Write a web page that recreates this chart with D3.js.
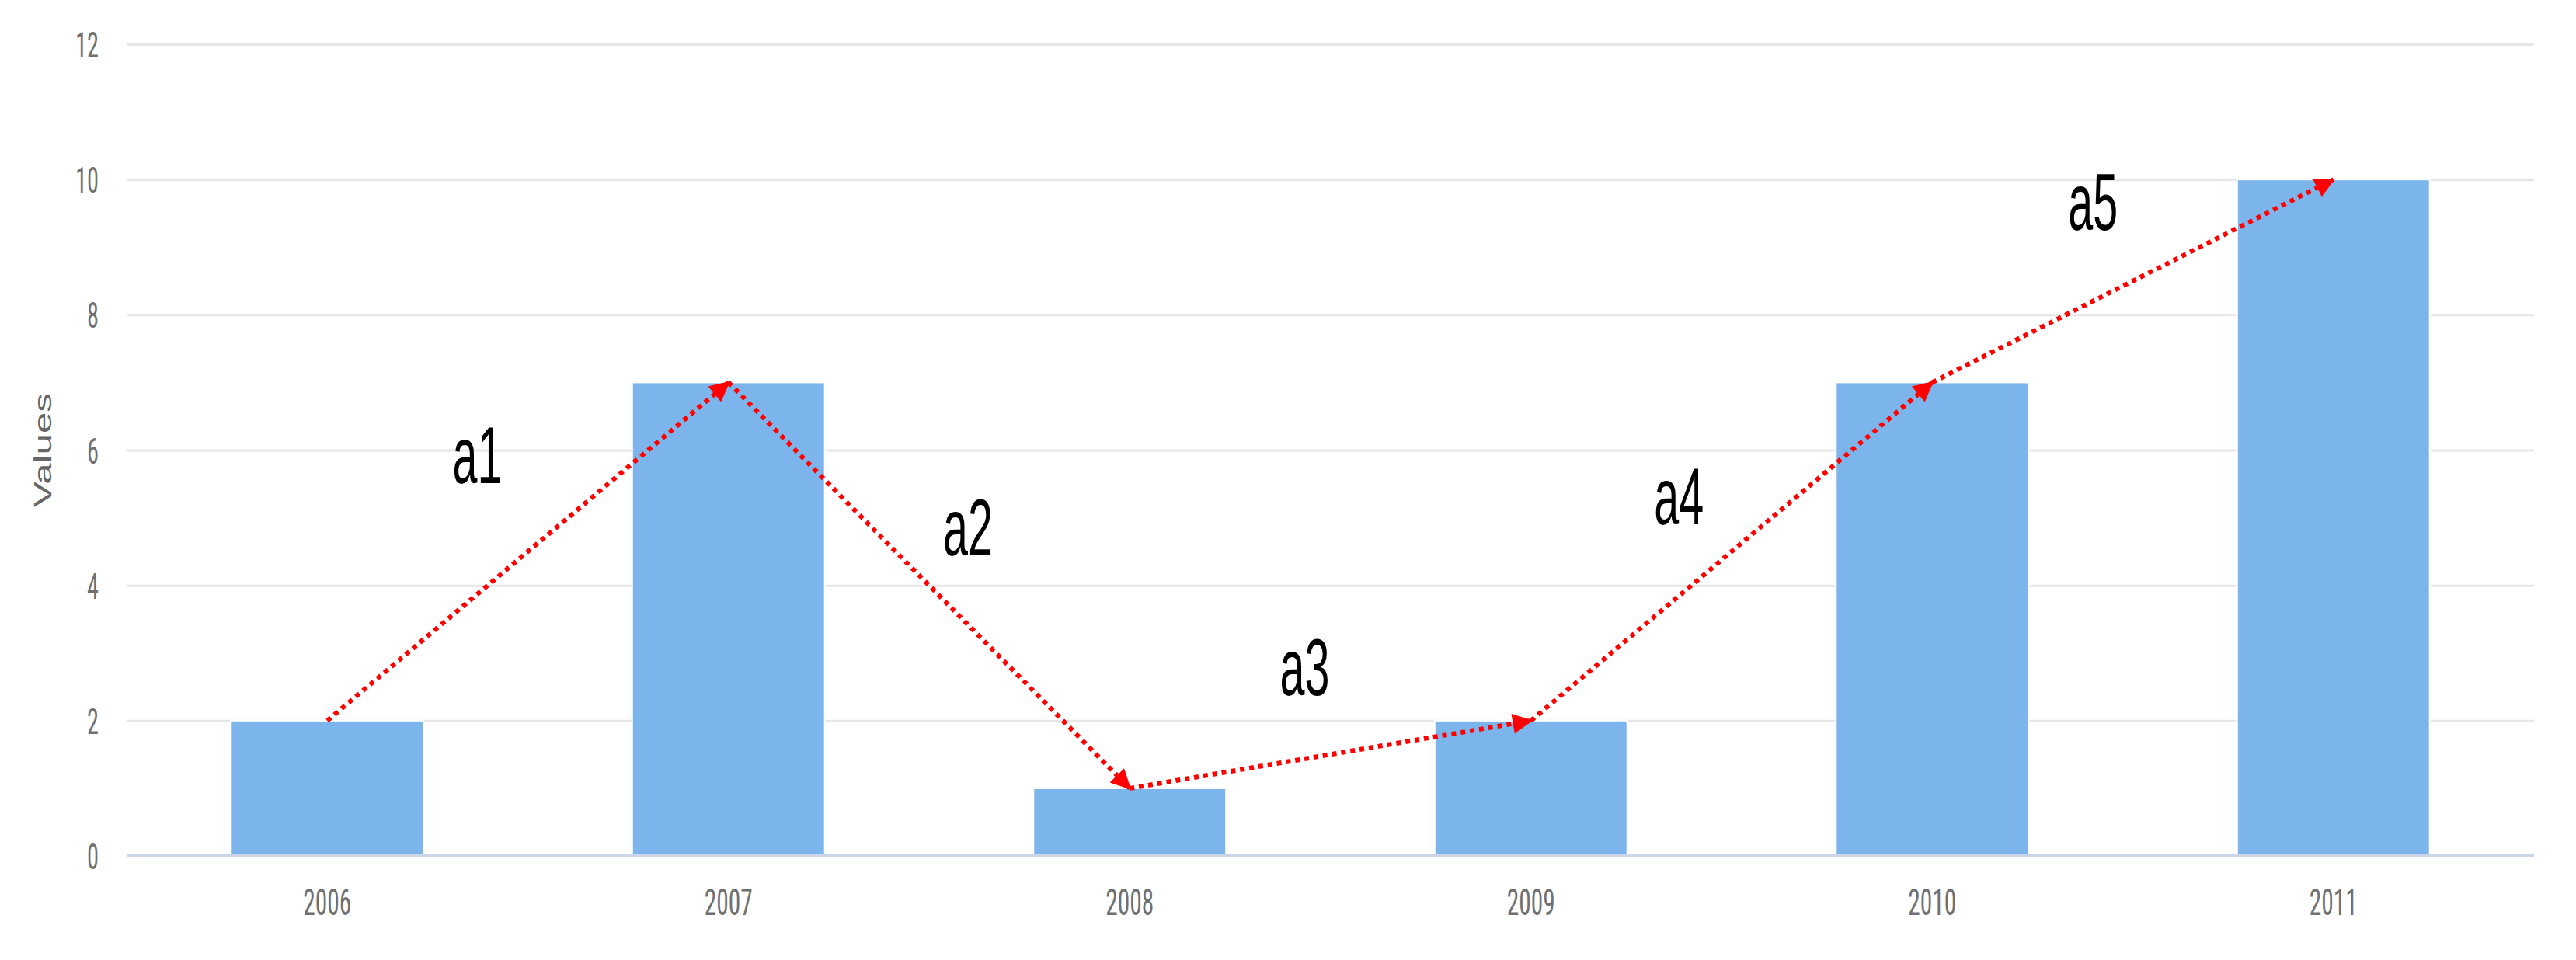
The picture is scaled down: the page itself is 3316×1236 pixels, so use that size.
<!DOCTYPE html>
<html>
<head>
<meta charset="utf-8">
<script src="https://cdn.jsdelivr.net/npm/d3@7"></script>
<style>
  html, body { margin: 0; padding: 0; background: #ffffff; }
  svg { display: block; }
</style>
</head>
<body>
<svg id="chart" width="3316" height="1236"></svg>
<script>
// ---- data ----
const categories = ["2006", "2007", "2008", "2009", "2010", "2011"];
const values = [2, 7, 1, 2, 7, 10];
const yTicks = [0, 2, 4, 6, 8, 10, 12];
const yTitle = "Values";
const arrowLabels = ["a1", "a2", "a3", "a4", "a5"];
const arrowFrom = [0, 1, 2, 3, 4];
const arrowTo = [1, 2, 3, 4, 5];

// ---- layout (not data) ----
const W = 3316, H = 1236;
const plot = { left: 163, right: 3262, top: 57, bottom: 1102 };
// label anchor: position in category-index units and value units (baseline)
const labelIdx = [0.374, 1.597, 2.436, 3.369, 4.401];
const labelVal = [5.51, 4.44, 2.38, 4.90, 9.26];

const svg = d3.select("#chart");

const x = d3.scaleBand()
  .domain(categories)
  .range([plot.left, plot.right])
  .paddingInner(0.52)
  .paddingOuter(0.26);

const y = d3.scaleLinear()
  .domain([0, 12])
  .range([plot.bottom, plot.top]);

const cx = i => x(categories[0]) + x.bandwidth() / 2 + i * x.step();

const narrow = "'Liberation Sans Narrow', 'Roboto Condensed', 'DejaVu Sans Condensed', 'Liberation Sans', sans-serif";

// gridlines
const grid = svg.append("g")
  .attr("transform", `translate(${plot.left},0)`)
  .call(d3.axisLeft(y).tickValues(yTicks).tickSize(-(plot.right - plot.left)).tickFormat(""));
grid.select(".domain").remove();
grid.selectAll(".tick line").attr("stroke", "#e6e6e6").attr("stroke-width", 3);

// y tick labels
const yAx = svg.append("g")
  .attr("transform", `translate(127,0)`)
  .call(d3.axisLeft(y).tickValues(yTicks).tickSize(0).tickPadding(0));
yAx.select(".domain").remove();
yAx.selectAll(".tick text")
  .attr("font-family", narrow)
  .attr("font-size", 46)
  .attr("fill", "#707070")
  .attr("text-anchor", "end")
  .attr("dy", "0.36em")
  .attr("textLength", d => String(d).length * 15)
  .attr("lengthAdjust", "spacingAndGlyphs");

// y title
svg.append("text")
  .attr("transform", `translate(66,${(plot.top + plot.bottom) / 2}) rotate(-90)`)
  .attr("text-anchor", "middle")
  .attr("font-family", "'Liberation Sans', Arial, sans-serif")
  .attr("font-size", 32)
  .attr("fill", "#666666")
  .attr("textLength", 147)
  .attr("lengthAdjust", "spacingAndGlyphs")
  .text(yTitle);

// bars
svg.append("g").selectAll("rect")
  .data(values)
  .join("rect")
  .attr("x", (d, i) => x(categories[i]))
  .attr("y", d => y(d))
  .attr("width", x.bandwidth())
  .attr("height", d => y(0) - y(d))
  .attr("fill", "#7cb5ec")
  .attr("stroke", "#ffffff")
  .attr("stroke-width", 2);

// x axis
const xAx = svg.append("g")
  .attr("transform", `translate(0,${plot.bottom})`)
  .call(d3.axisBottom(x).tickSize(0).tickPadding(0));
xAx.select(".domain")
  .attr("stroke", "#ccd6eb")
  .attr("stroke-width", 4)
  .attr("d", `M${plot.left},0H${plot.right}`);
xAx.selectAll(".tick text")
  .attr("font-family", narrow)
  .attr("font-size", 48)
  .attr("fill", "#707070")
  .attr("y", 76)
  .attr("dy", 0)
  .attr("textLength", 62)
  .attr("lengthAdjust", "spacingAndGlyphs");

// arrowhead marker
svg.append("defs").append("marker")
  .attr("id", "head")
  .attr("viewBox", "0 0 10 10")
  .attr("refX", 9)
  .attr("refY", 5)
  .attr("markerWidth", 30)
  .attr("markerHeight", 26)
  .attr("markerUnits", "userSpaceOnUse")
  .attr("orient", "auto")
  .append("path")
  .attr("d", "M0,0L10,5L0,10Z")
  .attr("fill", "#ff0000");

// arrows
svg.append("g").selectAll("line")
  .data(arrowFrom.map((f, k) => ({ f, t: arrowTo[k] })))
  .join("line")
  .attr("x1", d => cx(d.f))
  .attr("y1", d => y(values[d.f]))
  .attr("x2", d => cx(d.t))
  .attr("y2", d => y(values[d.t]))
  .attr("stroke", "#ff0000")
  .attr("stroke-width", 6)
  .attr("stroke-dasharray", "6 6")
  .attr("marker-end", "url(#head)");

// arrow labels
svg.append("g").selectAll("text")
  .data(arrowLabels)
  .join("text")
  .attr("x", (d, i) => cx(labelIdx[i]))
  .attr("y", (d, i) => y(labelVal[i]))
  .attr("text-anchor", "middle")
  .attr("font-family", "'Liberation Sans', Arial, sans-serif")
  .attr("font-size", 104)
  .attr("fill", "#000000")
  .attr("textLength", 64)
  .attr("lengthAdjust", "spacingAndGlyphs")
  .text(d => d);
</script>
</body>
</html>
